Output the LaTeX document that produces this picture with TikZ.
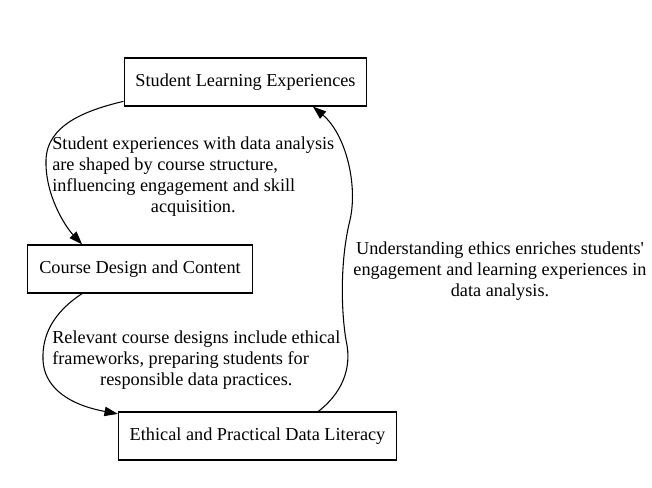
\documentclass[tikz,border=0pt]{standalone}
\usepackage{fontspec}
\setmainfont{Liberation Serif}
\usepackage{tikz}
\usetikzlibrary{arrows.meta}

\tikzset{
    box/.style={draw=black, line width=0.8pt, rectangle, minimum height=36pt,
        inner xsep=8.5pt, inner ysep=0pt},
    flow/.style={line width=0.8pt, -{Triangle[length=10pt,width=7pt]}},
    note/.style={inner sep=0pt}
}

\begin{document}
\begin{tikzpicture}[x=0.75pt, y=-0.75pt, font=\fontsize{13.7}{15.75}\selectfont]
    \useasboundingbox (0,0) rectangle (652,487);

    \node[box] (learning) at (245.5,82) {Student Learning Experiences};
    \node[box] (design) at (140,269) {Course Design and Content};
    \node[box] (literacy) at (257.5,436) {Ethical and Practical Data Literacy};

    % bends of the curved connectors
    \coordinate (b1) at (46,160);
    \coordinate (b2) at (43,360);
    \coordinate (b3) at (346,340);
    \coordinate (b4) at (350,220);

    \draw[flow] (learning.189) .. controls +(-38,9) and +(1,-35) .. (b1)
        .. controls +(-1,35) and +(-17,-18) .. (design.157);
    \draw[flow] (design.203) .. controls +(-29,19) and +(-1,-25) .. (b2)
        .. controls +(1,25) and +(-53,-10) .. (literacy.171);
    \draw[flow] (literacy.22) .. controls +(22,-17) and +(7,30) .. (b3)
        .. controls +(-5,-30) and +(-10,40) .. (b4)
        .. controls +(8,-35) and +(33,28) .. (learning.-20);

    \node[note, anchor=base west] (noteA) at (52,149)
        {\begin{tabular}[t]{@{}l@{}}
            Student experiences with data analysis\\
            are shaped by course structure,\\
            influencing engagement and skill\\
            \multicolumn{1}{@{}c@{}}{acquisition.}
        \end{tabular}};
    \node[note, anchor=base west] (noteB) at (52,343)
        {\begin{tabular}[t]{@{}l@{}}
            Relevant course designs include ethical\\
            frameworks, preparing students for\\
            \multicolumn{1}{@{}c@{}}{responsible data practices.}
        \end{tabular}};
    \node[note, anchor=base] (noteC) at (500,254)
        {\begin{tabular}[t]{@{}c@{}}
            Understanding ethics enriches students\textquotesingle\\
            engagement and learning experiences in\\
            data analysis.
        \end{tabular}};
\end{tikzpicture}
\end{document}
